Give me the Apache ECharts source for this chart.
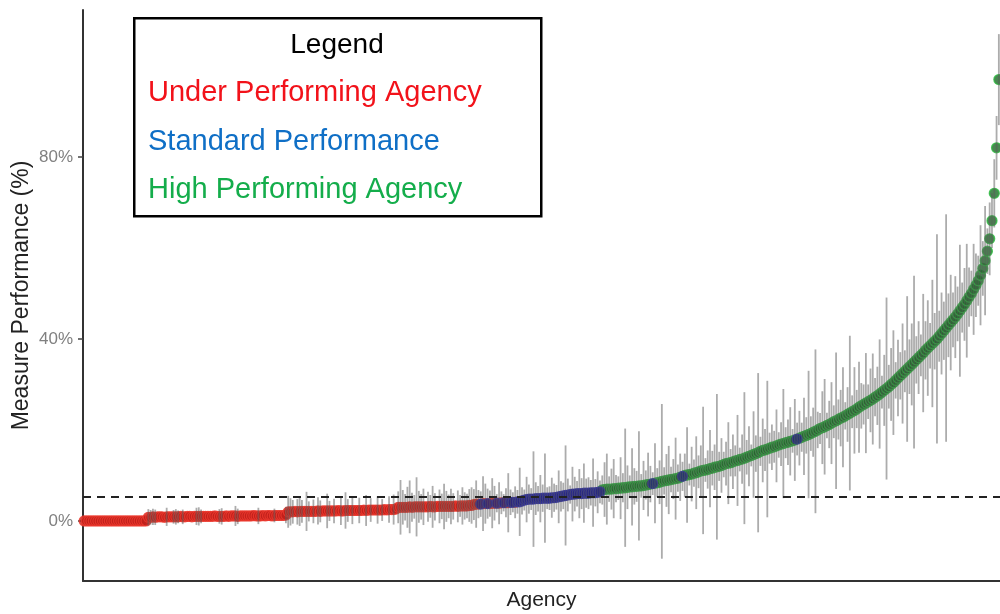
<!DOCTYPE html>
<html>
<head>
<meta charset="utf-8">
<script src="https://cdn.jsdelivr.net/npm/echarts@6/dist/echarts.min.js"></script>
<style>html,body{margin:0;padding:0;background:#fff}#c{width:1000px;height:614px}</style>
</head>
<body>
<div id="c"></div>
<script>
// Agency performance (%) sorted ascending, one value per agency
const perfValues = [
0,0,0,0,0,0,0,0,0,0,0,0,0,0,0,0,0,0,0,0,
0,0,0,0,0,0,0,0,0.8,0.8,0.9,0.8,0.9,0.9,0.9,0.8,0.9,0.9,0.9,0.9,
0.9,0.9,1.0,0.9,0.9,1.0,1.0,0.9,1.0,1.0,1.0,1.0,1.0,1.0,1.0,1.0,1.0,1.1,1.0,1.0,
1.0,1.0,1.1,1.0,1.1,1.1,1.1,1.0,1.1,1.1,1.1,1.1,1.1,1.1,1.2,1.1,1.1,1.1,1.2,1.1,
1.2,1.2,1.1,1.2,1.2,1.2,1.2,1.2,1.3,2.0,2.0,2.0,2.1,2.0,2.1,2.1,2.1,2.1,2.1,2.1,
2.1,2.1,2.2,2.1,2.2,2.2,2.2,2.2,2.2,2.2,2.2,2.3,2.2,2.2,2.3,2.3,2.3,2.3,2.3,2.3,
2.3,2.3,2.4,2.3,2.4,2.4,2.4,2.4,2.4,2.4,2.4,2.5,2.4,2.5,2.5,2.5,2.6,3.0,3.0,3.0,
3.0,3.0,3.1,3.0,3.1,3.1,3.1,3.1,3.1,3.1,3.1,3.2,3.1,3.1,3.2,3.2,3.2,3.2,3.2,3.2,
3.2,3.2,3.3,3.2,3.3,3.3,3.3,3.3,3.4,3.4,3.6,3.7,3.7,3.7,3.8,3.8,3.8,3.8,3.9,3.9,
3.9,3.9,4.0,4.0,4.0,4.0,4.1,4.1,4.1,4.2,4.2,4.4,4.6,4.7,4.8,4.8,4.8,4.9,4.9,4.9,
5.0,5.0,5.0,5.0,5.1,5.1,5.2,5.3,5.4,5.5,5.6,5.7,5.8,5.9,5.9,6.0,6.0,6.0,6.1,6.1,
6.1,6.2,6.2,6.2,6.3,6.4,6.8,6.9,7.0,7.0,7.0,7.1,7.1,7.2,7.2,7.3,7.3,7.4,7.5,7.5,
7.6,7.6,7.7,7.7,7.8,7.9,8.0,8.1,8.2,8.3,8.4,8.5,8.7,8.8,8.9,9.0,9.1,9.2,9.3,9.4,
9.6,9.8,10.0,10.1,10.2,10.3,10.5,10.6,10.8,11.0,11.1,11.2,11.3,11.5,11.6,11.8,11.9,12.0,12.2,12.4,
12.6,12.7,12.8,13.0,13.2,13.3,13.5,13.6,13.8,14.0,14.2,14.4,14.6,14.8,15.0,15.3,15.5,15.6,15.8,16.0,
16.2,16.3,16.5,16.7,16.9,17.0,17.2,17.3,17.5,17.6,17.8,18.0,18.2,18.4,18.6,18.8,19.0,19.2,19.5,19.7,
20.0,20.3,20.5,20.7,21.0,21.2,21.5,21.8,22.0,22.3,22.6,22.8,23.1,23.4,23.7,24.0,24.3,24.6,25.0,25.3,
25.6,25.9,26.2,26.5,26.8,27.2,27.5,27.9,28.3,28.7,29.1,29.5,30.0,30.4,30.9,31.4,31.9,32.4,32.9,33.4,
33.9,34.4,34.9,35.4,35.9,36.4,36.9,37.5,38.0,38.5,39.0,39.5,40.0,40.6,41.2,41.8,42.4,43.0,43.6,44.2,
44.8,45.5,46.2,46.9,47.6,48.4,49.2,50.0,50.9,51.8,52.8,54.0,55.5,57.2,59.3,62.0,66.0,72.0,82.0,97.0
];
// Half-width of each agency's interval (percentage points), 0 = no bar
const errHalf = [
0,0,0,0,0,0,0,0,0,0,0,0,0,0,0,0,0,0,0,0,
0,0,0,0,0,0,0,0,1.8,1.6,1.8,1.7,0,0,0,0,2.0,0,0,1.5,
1.7,1.4,0,1.6,0,0,0,0,0,1.9,2.0,1.5,0,0,0,0,0,0,0,1.6,
1.8,0,0,0,0,0,2.2,1.7,0,0,0,0,0,0,0,0,1.8,0,0,0,
0,0,0,1.5,0,0,0,0,1.8,3.5,3.0,2.6,0,2.8,3.2,2.5,0,4.3,2.2,0,
2.6,0,3.0,2.4,0,0,3.8,2.2,0,2.7,0,0,3.1,0,4.0,2.5,0,3.0,0,0,
2.8,0,0,3.4,0,2.6,0,0,3.0,0,2.4,0,0,2.9,0,3.3,0,3.5,6.0,3.8,
2.9,4.5,5.8,3.2,2.6,6.5,3.5,2.8,4.0,0,3.3,2.5,4.6,3.0,0,3.7,2.8,5.0,3.4,2.6,
3.9,2.9,0,3.5,2.4,4.1,3.0,2.7,3.6,4.0,3.4,5.2,3.1,2.8,6.0,4.4,3.3,2.9,5.5,3.8,
2.0,4.6,2.5,1.9,3.2,6.5,2.8,2.2,3.5,2.6,7.5,3.0,2.3,5.0,3.2,2.4,10.5,3.6,2.8,5.2,
3.0,9.8,2.4,2.6,4.4,3.1,2.7,5.8,3.3,2.9,11.0,3.6,2.0,6.0,3.8,2.8,5.4,3.4,6.5,3.2,
3.5,2.8,7.5,3.0,4.6,2.5,3.2,6.0,7.8,2.8,4.5,6.5,3.0,2.6,6.8,3.2,13.0,4.8,2.5,8.5,
4.0,3.4,12.0,2.6,5.4,3.2,7.0,4.0,2.5,8.8,3.2,4.8,17.0,3.0,5.8,7.5,2.8,4.4,9.0,3.0,
5.2,3.2,4.8,10.5,2.4,6.0,3.0,8.0,3.6,5.6,14.0,2.6,4.2,8.5,3.8,5.0,16.0,3.2,6.0,2.8,
4.8,9.0,3.0,6.0,3.4,10.0,2.6,5.4,14.5,3.8,6.6,2.4,9.5,4.0,17.5,3.2,7.0,4.6,15.0,3.4,
5.0,3.5,8.0,2.8,4.8,12.0,3.4,5.0,7.5,2.6,9.0,3.6,6.0,3.2,8.5,4.0,14.0,3.8,5.4,18.0,
4.0,3.4,8.0,10.5,2.8,5.2,9.0,3.6,15.0,4.4,6.2,11.0,3.0,6.0,17.0,3.6,9.5,4.2,10.0,5.0,
4.4,11.0,3.8,7.0,10.0,4.2,6.4,12.0,3.6,7.8,20.0,4.8,8.0,11.5,4.0,8.4,5.2,11.0,4.6,16.0,
6.0,9.0,19.0,5.2,8.0,4.6,13.0,6.4,10.5,5.0,14.0,6.2,23.0,5.6,9.0,6.4,25.0,7.0,10.5,6.0,
9.0,6.0,14.5,5.5,8.0,12.5,6.5,5.0,10.0,7.0,5.5,11.0,6.0,12.0,5.0,8.0,6.0,7.5,7.0,10.0
];
// Performance class of consecutive agencies (run-length): U = under, S = standard, H = high
const groupRuns = [
['U',170],['U',3],['S',1],['U',2],['S',1],['U',3],['S',1],['U',2],['S',1],['U',2],['S',2],['U',1],['S',2],
['S',35],['H',22],['S',1],['H',12],['S',1],['H',49],['S',1],['H',88]
];
const yTickValues = [0, 40, 80];
const benchmark = 5.3;
const legendTitle = 'Legend';
const legendLabels = ['Under Performing Agency', 'Standard Performance', 'High Performing Agency'];
const legendColors = ['#f2121a', '#0f6fc6', '#14ad4b'];

const groups = [];
groupRuns.forEach(([g, n]) => { for (let k = 0; k < n; k++) groups.push(g); });
const cats = perfValues.map((_, i) => String(i + 1));
const ptsU = [], ptsS = [], ptsH = [], bars = [];
perfValues.forEach((v, i) => {
  const p = [i, v];
  if (groups[i] === 'U') ptsU.push(p); else if (groups[i] === 'S') ptsS.push(p); else ptsH.push(p);
  if (errHalf[i] > 0) bars.push([i, v - errHalf[i], v + errHalf[i]]);
});

const FONT = '"Liberation Sans", Arial, sans-serif';
const chart = echarts.init(document.getElementById('c'), null, {renderer: 'canvas'});
const dotSize = 10;
chart.setOption({
  animation: false,
  backgroundColor: '#fff',
  grid: {left: 83, right: 0, top: 10, bottom: 33, containLabel: false, outerBoundsMode: 'none'},
  xAxis: {
    type: 'category', data: cats, boundaryGap: true,
    name: 'Agency', nameLocation: 'middle', nameGap: 9,
    nameTextStyle: {fontFamily: FONT, fontSize: 21, color: '#222'},
    axisLine: {show: true, onZero: false, lineStyle: {color: '#333', width: 2}},
    axisTick: {show: false}, axisLabel: {show: false}, splitLine: {show: false}
  },
  yAxis: {
    type: 'value', min: -13.2, max: 112.3,
    name: 'Measure Performance (%)', nameLocation: 'middle', nameGap: 50, nameMoveOverlap: false,
    nameTextStyle: {fontFamily: FONT, fontSize: 23, color: '#222'},
    axisLine: {show: true, lineStyle: {color: '#333', width: 2}},
    axisTick: {show: true, length: 5, customValues: yTickValues, lineStyle: {color: '#444', width: 1.5}},
    axisLabel: {customValues: yTickValues, formatter: v => v + '%', margin: 10,
      fontFamily: FONT, fontSize: 17, color: '#808080'},
    splitLine: {show: false}
  },
  series: [
    {type: 'scatter', name: legendLabels[0], data: ptsU, symbolSize: dotSize, z: 2,
     itemStyle: {color: '#c0201c', borderColor: '#ee3a2e', borderWidth: 1.2},
     markLine: {silent: true, symbol: ['none', 'none'], label: {show: false},
       lineStyle: {color: '#222', width: 1.8, type: [8, 6]}, data: [{yAxis: benchmark}]}},
    {type: 'scatter', name: legendLabels[2], data: ptsH, symbolSize: dotSize, z: 2,
     itemStyle: {color: '#1b6a25', borderColor: '#30bf42', borderWidth: 1.3}},
    {type: 'scatter', name: legendLabels[1], data: ptsS, symbolSize: dotSize, z: 3,
     itemStyle: {color: '#1a1a88', borderColor: '#2a2ab2', borderWidth: 1.2}},
    {type: 'custom', name: 'interval', data: bars, z: 4,
     renderItem: (params, api) => {
       const a = api.coord([api.value(0), api.value(1)]);
       const b = api.coord([api.value(0), api.value(2)]);
       return {type: 'line', shape: {x1: a[0], y1: a[1], x2: b[0], y2: b[1]},
         style: {stroke: 'rgba(90,90,90,0.5)', lineWidth: 1.8}};
     }}
  ],
  graphic: [
    {type: 'rect', left: 133, top: 17, z: 100,
     shape: {width: 407, height: 198}, style: {fill: '#fff', stroke: '#000', lineWidth: 2.5}},
    {type: 'text', z: 101, x: 337, y: 45,
     style: {text: legendTitle, font: '28px ' + FONT, fill: '#000', align: 'center', verticalAlign: 'middle'}},
    {type: 'text', z: 101, x: 148, y: 93,
     style: {text: legendLabels[0], font: '29px ' + FONT, fill: legendColors[0], align: 'left', verticalAlign: 'middle'}},
    {type: 'text', z: 101, x: 148, y: 142,
     style: {text: legendLabels[1], font: '29px ' + FONT, fill: legendColors[1], align: 'left', verticalAlign: 'middle'}},
    {type: 'text', z: 101, x: 148, y: 190,
     style: {text: legendLabels[2], font: '29px ' + FONT, fill: legendColors[2], align: 'left', verticalAlign: 'middle'}}
  ]
});
</script>
</body>
</html>
